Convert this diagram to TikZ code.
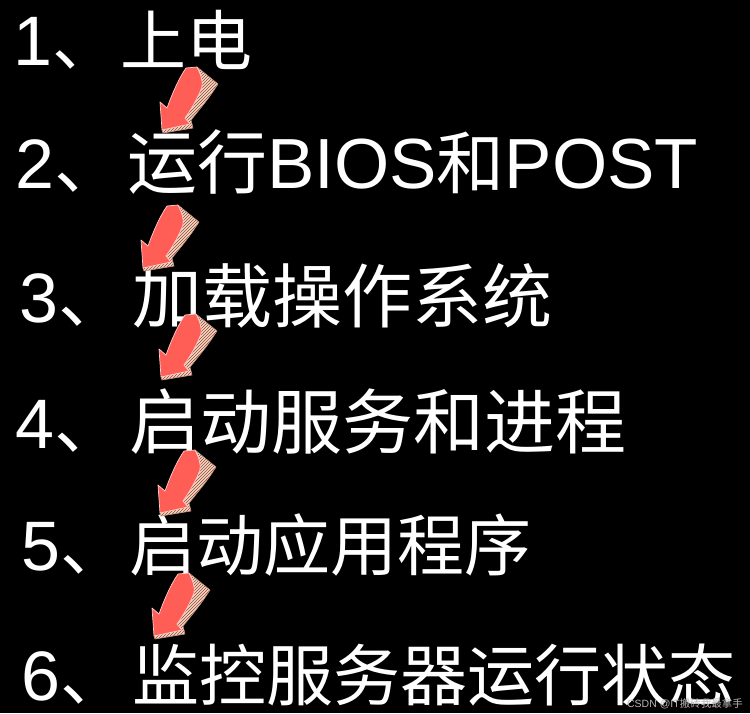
\documentclass[tikz,border=0pt]{standalone}
\usepackage{fontspec}
\setmainfont{Liberation Sans}
\newfontfamily\cjk{Noto Sans CJK SC}
\usetikzlibrary{patterns}
\definecolor{arrowred}{HTML}{FF5E57}
\definecolor{sidetan}{HTML}{F6D8C8}
\definecolor{hatchc}{HTML}{8E4A34}
\definecolor{wmgrey}{HTML}{B4B4B4}
\newcommand\cjs[2]{{\cjk\fontsize{#1}{#1}\selectfont #2}}
\tikzset{
  numtext/.style={anchor=base west, inner sep=0pt, text depth=0pt, text=white, font=\fontsize{70}{80}\selectfont},
  steptext/.style={anchor=base west, inner sep=0pt, text depth=0pt, text=white, font=\fontsize{71}{80}\selectfont},
  arrowfront/.style={fill=arrowred, draw=white!70!arrowred, line width=0.7pt, line join=round},
  arrowside/.style={preaction={fill=sidetan}, pattern={north east lines}, pattern color=hatchc, draw=hatchc!50!sidetan, line width=0.6pt, line join=round},
}
\newcommand\stepArrow[1]{%
  \begin{scope}[shift={(#1)}]
    \path[arrowside] (0,0) -- (1,3) -- (31,-2) -- (29,-10) .. controls (38,-21) and (46,-31) .. (50,-37) -- (56,-46) -- (35,-63) -- cycle;
    \path[arrowfront] (0,0) -- (-2,-28) -- (5,-22) .. controls (10,-36) and (17,-52) .. (24,-62) -- (35,-63) .. controls (39,-55) and (41,-49) .. (40,-43) .. controls (35,-30) and (28,-19) .. (23,-12) -- (28,-6) -- cycle;
  \end{scope}}
\begin{document}
\begin{tikzpicture}[x=1pt,y=-1pt]
  \useasboundingbox (0,0) rectangle (750,713);
  \fill[black] (0,0) rectangle (750,713);
  % step numbers
  \node[numtext] (n1) at (13,65) {1\cjs{66}{、}};
  \node[numtext] (n2) at (15,188) {2\cjs{69}{、}};
  \node[numtext] (n3) at (19,322) {3\cjs{69}{、}};
  \node[numtext] (n4) at (15,448) {4\cjs{69}{、}};
  \node[numtext] (n5) at (21,570) {5\cjs{67}{、}};
  \node[numtext] (n6) at (21,700) {6\cjs{67}{、}};
  % step texts
  \node[steptext] (s1) at (120,65) {\cjs{66}{上电}};
  \node[steptext] (s2) at (127,188) {\cjs{70}{运行}BIOS\cjs{68}{和}POST};
  \node[steptext] (s3) at (132,322) {\cjs{70}{加载操作系统}};
  \node[steptext] (s4) at (129,448) {\cjs{71}{启动服务和进程}};
  \node[steptext] (s5) at (129,570) {\cjs{67}{启动应用程序}};
  \node[steptext] (s6) at (132,700) {\cjs{67}{监控服务器运行状态}};
  % arrows
  \coordinate (a1) at (162,130);
  \coordinate (a2) at (143,268);
  \coordinate (a3) at (161,377);
  \coordinate (a4) at (160,513);
  \coordinate (a5) at (154,636);
  \stepArrow{a1}
  \stepArrow{a2}
  \stepArrow{a3}
  \stepArrow{a4}
  \stepArrow{a5}
  \node[anchor=base east, inner sep=0pt, text=wmgrey, font=\fontsize{10.5}{12}\selectfont] (wm) at (743,707) {CSDN @IT\cjs{10.5}{搬砖我最拿手}};
\end{tikzpicture}
\end{document}
